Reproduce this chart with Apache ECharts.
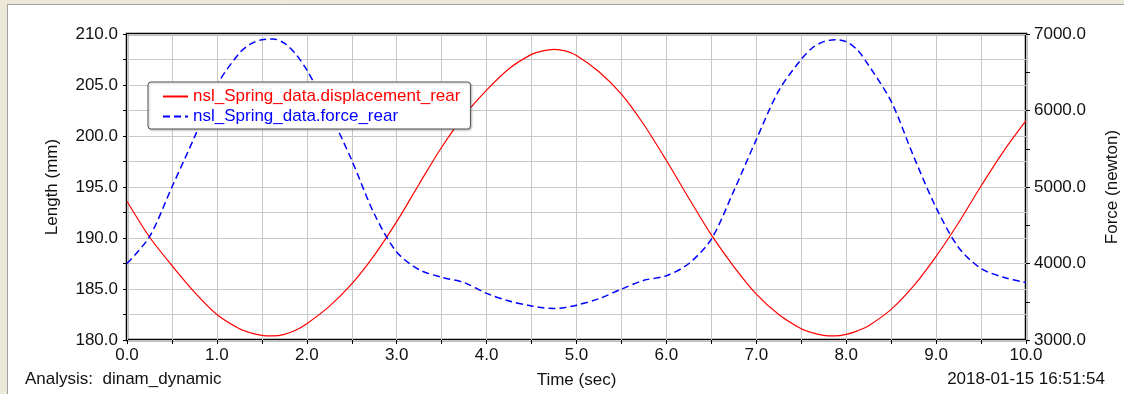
<!DOCTYPE html>
<html>
<head>
<meta charset="utf-8">
<script src="https://cdn.jsdelivr.net/npm/echarts@6/dist/echarts.min.js"></script>
<style>
html,body{margin:0;padding:0;background:#fff;}
#c{width:1124px;height:394px;}
</style>
</head>
<body>
<div id="c"></div>
<script>
const times = [0,0.25,0.5,0.75,1,1.25,1.375,1.5,1.625,1.75,1.875,2,2.25,2.5,2.75,3,3.25,3.5,3.75,4,4.25,4.5,4.625,4.75,4.875,5,5.25,5.5,5.75,6,6.25,6.5,6.75,7,7.25,7.5,7.625,7.75,7.875,8,8.125,8.25,8.5,8.75,9,9.25,9.5,9.75,10];
const displacement = [193.6,190.1,187.3,184.7,182.5,181.1,180.7,180.45,180.4,180.55,180.95,181.6,183.3,185.5,188.3,191.6,195.3,198.9,202.0,204.5,206.6,208.0,208.35,208.5,208.35,207.9,206.3,204.1,201.1,197.6,193.9,190.3,187.2,184.5,182.5,181.1,180.7,180.45,180.4,180.55,180.9,181.4,183.0,185.3,188.2,191.5,195.1,198.5,201.5];
const force = [4000,4350,5000,5650,6330,6750,6870,6925,6935,6880,6740,6530,5980,5350,4650,4150,3920,3820,3750,3610,3510,3445,3420,3412,3425,3455,3540,3665,3780,3840,4000,4320,4950,5620,6260,6670,6820,6900,6925,6900,6790,6590,6120,5400,4730,4210,3935,3820,3750];
const seriesNames = ['nsl_Spring_data.displacement_rear','nsl_Spring_data.force_rear'];
const axisNames = {x:'Time (sec)', left:'Length (mm)', right:'Force (newton)'};
const footLeft = 'Analysis:  dinam_dynamic';
const footRight = '2018-01-15 16:51:54';

const FONT = 'Liberation Sans, Arial, sans-serif';
const FS = 17;
const chart = echarts.init(document.getElementById('c'));
const tickStyle = {show:true, length:4, lineStyle:{color:'#000', width:1}};
const labelStyle = {color:'#111', fontSize:FS, fontFamily:FONT};
chart.setOption({
  animation:false,
  backgroundColor:'#fff',
  grid:{left:127, right:98, top:34, bottom:54, outerBoundsMode:'none', containLabel:false,
        show:true, borderColor:'#000', borderWidth:2.5, backgroundColor:'transparent'},
  legend:{
    orient:'vertical', left:148, top:82,
    backgroundColor:'#fff', borderColor:'#555', borderWidth:1, borderRadius:3,
    padding:[6,10,4,14], itemGap:3, itemWidth:25, itemHeight:14,
    itemStyle:{opacity:0},
    shadowColor:'rgba(0,0,0,0.25)', shadowBlur:2, shadowOffsetX:1, shadowOffsetY:1,
    textStyle:{fontSize:FS, fontFamily:FONT},
    data:[{name:seriesNames[0], textStyle:{color:'#ff0000'}},{name:seriesNames[1], textStyle:{color:'#0000ff'}}]
  },
  xAxis:{
    type:'value', min:0, max:10, interval:1,
    name:axisNames.x, nameLocation:'middle', nameGap:32,
    nameTextStyle:{color:'#111', fontSize:FS, fontFamily:FONT},
    axisLine:{show:false},
    axisTick:tickStyle, minorTick:{show:true, splitNumber:2, length:4, lineStyle:{color:'#000'}},
    axisLabel:Object.assign({margin:7, formatter:v=>v.toFixed(1)}, labelStyle),
    splitLine:{show:true, lineStyle:{color:'#c8c8c8', width:1}},
    minorSplitLine:{show:true, lineStyle:{color:'#c8c8c8', width:1}}
  },
  yAxis:[{
    type:'value', min:180, max:210, interval:5, position:'left',
    name:axisNames.left, nameLocation:'middle', nameGap:66, nameRotate:90,
    nameTextStyle:{color:'#111', fontSize:FS, fontFamily:FONT},
    axisLine:{show:false},
    axisTick:tickStyle, minorTick:{show:true, splitNumber:2, length:4, lineStyle:{color:'#000'}},
    axisLabel:Object.assign({margin:9, formatter:v=>v.toFixed(1)}, labelStyle),
    splitLine:{show:true, lineStyle:{color:'#c8c8c8', width:1}},
    minorSplitLine:{show:true, lineStyle:{color:'#c8c8c8', width:1}}
  },{
    type:'value', min:3000, max:7000, interval:1000, position:'right',
    name:axisNames.right, nameLocation:'middle', nameGap:78, nameRotate:90,
    nameTextStyle:{color:'#111', fontSize:FS, fontFamily:FONT},
    axisLine:{show:false},
    axisTick:tickStyle, minorTick:{show:true, splitNumber:2, length:4, lineStyle:{color:'#000'}},
    axisLabel:Object.assign({margin:8, formatter:v=>v.toFixed(1)}, labelStyle),
    splitLine:{show:false}
  }],
  series:[{
    name:seriesNames[0], type:'line', yAxisIndex:0, showSymbol:false, symbol:'none', smooth:0.3,
    lineStyle:{color:'#ff0000', width:1.2}, itemStyle:{color:'#ff0000'},
    data:times.map((t,i)=>[t, displacement[i]])
  },{
    name:seriesNames[1], type:'line', yAxisIndex:1, showSymbol:false, symbol:'none', smooth:0.3,
    lineStyle:{color:'#0000ff', width:1.5, type:[7,4]}, itemStyle:{color:'#0000ff'},
    data:times.map((t,i)=>[t, force[i]])
  }],
  graphic:[
    {type:'rect', shape:{x:0,y:0,width:1124,height:4}, style:{fill:'#ece9d8'}, silent:true},
    {type:'rect', shape:{x:0,y:0,width:7,height:394}, style:{fill:'#ece9d8'}, silent:true},
    {type:'line', shape:{x1:7.5,y1:4.5,x2:1124,y2:4.5}, style:{stroke:'#a0a0a0', lineWidth:1}, silent:true},
    {type:'line', shape:{x1:7.5,y1:4.5,x2:7.5,y2:394}, style:{stroke:'#a0a0a0', lineWidth:1}, silent:true},
    {type:'text', left:25, top:371, style:{text:footLeft, fill:'#111', font:FS+'px '+FONT}},
    {type:'text', right:19, top:371, style:{text:footRight, fill:'#111', font:FS+'px '+FONT}}
  ]
});
</script>
</body>
</html>
